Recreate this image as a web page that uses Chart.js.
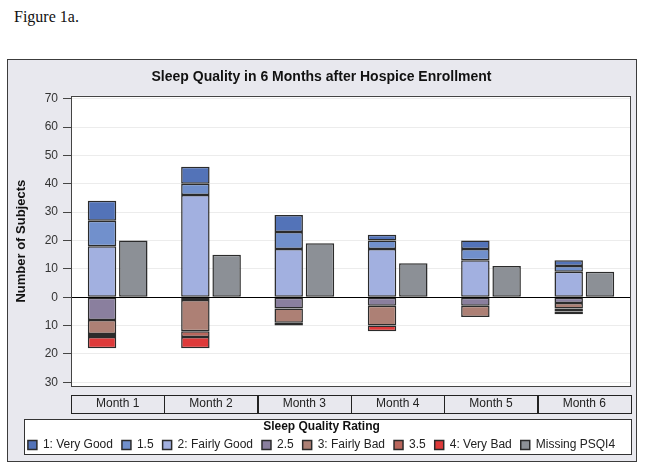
<!DOCTYPE html>
<html>
<head>
<meta charset="utf-8">
<script src="https://cdn.jsdelivr.net/npm/chart.js@4.4.1/dist/chart.umd.min.js"></script>
<style>
    body {
        margin: 0;
        background: #fff;
        width: 645px;
        height: 470px;
        overflow: hidden;
        position: relative;
        font-family: 'Liberation Sans', Arial, sans-serif;
    }
    #fig {
        position: absolute;
        left: 14px;
        top: 8px;
        font-family: 'Liberation Serif', 'Times New Roman', serif;
        font-size: 16px;
        color: #111;
    }
    #frame {
        position: absolute;
        left: 7px;
        top: 59px;
        width: 630px;
        height: 403px;
        box-sizing: border-box;
        border: 1px solid #3c3c3c;
        background: #E8E8EE;
    }
    #wrap {
        position: absolute;
        left: 0;
        top: 0;
        width: 628px;
        height: 401px;
    }
</style>
</head>
<body>
<div id="fig">Figure 1a.</div>
<div id="frame"><div id="wrap"><canvas id="chart-1"></canvas></div></div>
<script>
const months = ['Month 1', 'Month 2', 'Month 3', 'Month 4', 'Month 5', 'Month 6'];

// counts above zero (good sleep)
const veryGood = [7, 6, 6, 2, 3, 2];
const rating15 = [9, 4, 6, 3, 4, 2];
const fairlyGood = [18, 36, 17, 17, 13, 9];
// counts below zero (bad sleep), stored negative
const rating25 = [-8, -1, -4, -3, -3, -2];
const fairlyBad = [-5, -11, -5, -7, -4, -2];
const rating35 = [-1, -2, 0, 0, 0, -1];
const veryBad = [-4, -4, -1, -2, 0, -1];
const missing = [20, 15, 19, 12, 11, 9];

const yTicks = [-30, -20, -10, 0, 10, 20, 30, 40, 50, 60, 70];

// legend order; `order` = stacking order outward from zero
const series = [
    { label: '1: Very Good', data: veryGood, color: '#5373B8', order: 2, stack: 'rating' },
    { label: '1.5', data: rating15, color: '#7190CC', order: 1, stack: 'rating' },
    { label: '2: Fairly Good', data: fairlyGood, color: '#A2B0E0', order: 0, stack: 'rating' },
    { label: '2.5', data: rating25, color: '#8A7F9E', order: 3, stack: 'rating' },
    { label: '3: Fairly Bad', data: fairlyBad, color: '#AD8075', order: 4, stack: 'rating' },
    { label: '3.5', data: rating35, color: '#B9665C', order: 5, stack: 'rating' },
    { label: '4: Very Bad', data: veryBad, color: '#DE3A3A', order: 6, stack: 'rating' },
    { label: 'Missing PSQI4', data: missing, color: '#8C9096', order: 7, stack: 'missing' }
];

// ////////////////////////////// frame plugin: plot bg, legend box, month boxes
const framePlugin = {
    id: 'frame',
    beforeDraw(chart) {
        const { ctx, chartArea: a } = chart;
        const lg = chart.legend;
        ctx.save();
        ctx.fillStyle = '#fff';
        ctx.fillRect(a.left, a.top, a.right - a.left, a.bottom - a.top);
        const top = Math.round(lg.top);
        ctx.fillRect(16, top, chart.width - 20, 35);
        ctx.strokeStyle = '#333';
        ctx.lineWidth = 1;
        ctx.strokeRect(16.5, top + 0.5, chart.width - 21, 35);
        ctx.restore();
    },
    afterDraw(chart) {
        const { ctx, chartArea: a, scales: { x } } = chart;
        ctx.save();
        ctx.lineWidth = 1;
        ctx.strokeStyle = '#444';
        ctx.strokeRect(Math.round(a.left) + 0.5, Math.round(a.top) + 0.5,
            Math.round(a.right - a.left) - 1, Math.round(a.bottom - a.top) - 1);
        const w = (a.right - a.left) / months.length;
        ctx.strokeStyle = '#222';
        months.forEach((m, i) => {
            const cx = x.getPixelForValue(i);
            ctx.strokeRect(Math.round(cx - w / 2) + 0.5, Math.round(a.bottom) + 8.5, Math.round(w), 18);
        });
        ctx.restore();
    }
};

const ctx1 = document.getElementById('chart-1');

new Chart(ctx1, {
    type: 'bar',
    data: {
        labels: months,
        datasets: series.map(s => ({
            label: s.label,
            data: s.data,
            backgroundColor: s.color,
            borderColor: '#2b2b2b',
            borderWidth: 1.5,
            borderSkipped: false,
            order: s.order,
            stack: s.stack
        }))
    },
    options: {
        responsive: true,
        maintainAspectRatio: false,
        animation: false,
        layout: { padding: { left: 4, right: 5, top: 0, bottom: 0 } },
        datasets: {
            bar: { categoryPercentage: 0.67, barPercentage: 0.91 }
        },
        scales: {
            x: {
                stacked: true,
                grid: { display: false, drawTicks: false },
                border: { display: false },
                ticks: { padding: 10, color: '#222', font: { size: 12 } },
                afterFit: s => { s.height = 32; }
            },
            y: {
                stacked: true,
                min: -31.5,
                max: 71,
                afterBuildTicks: s => { s.ticks = yTicks.map(v => ({ value: v })); },
                ticks: {
                    callback: v => Math.abs(v),
                    color: '#333',
                    padding: 5,
                    font: { size: 12 }
                },
                grid: {
                    color: c => (c.tick && c.tick.value === 0 ? '#000' : '#ececec'),
                    tickColor: '#444',
                    tickLength: 8
                },
                border: { display: false },
                title: {
                    display: true,
                    text: 'Number of Subjects',
                    color: '#111',
                    font: { size: 13, weight: 'bold' },
                    padding: { top: 2, bottom: 0 }
                },
                afterFit: s => { s.width = 59; }
            }
        },
        plugins: {
            title: {
                display: true,
                text: 'Sleep Quality in 6 Months after Hospice Enrollment',
                color: '#111',
                font: { size: 14, weight: 'bold' },
                padding: { top: 9, bottom: 10 }
            },
            legend: {
                position: 'bottom',
                labels: {
                    boxWidth: 9,
                    boxHeight: 9,
                    padding: 9,
                    color: '#222',
                    font: { size: 12 },
                    sort: (a, b) => a.datasetIndex - b.datasetIndex
                },
                title: {
                    display: true,
                    text: 'Sleep Quality Rating',
                    color: '#111',
                    font: { size: 12, weight: 'bold' },
                    padding: { top: 2, bottom: -5 }
                }
            },
            tooltip: { enabled: false }
        }
    },
    plugins: [framePlugin]
});
</script>
</body>
</html>
